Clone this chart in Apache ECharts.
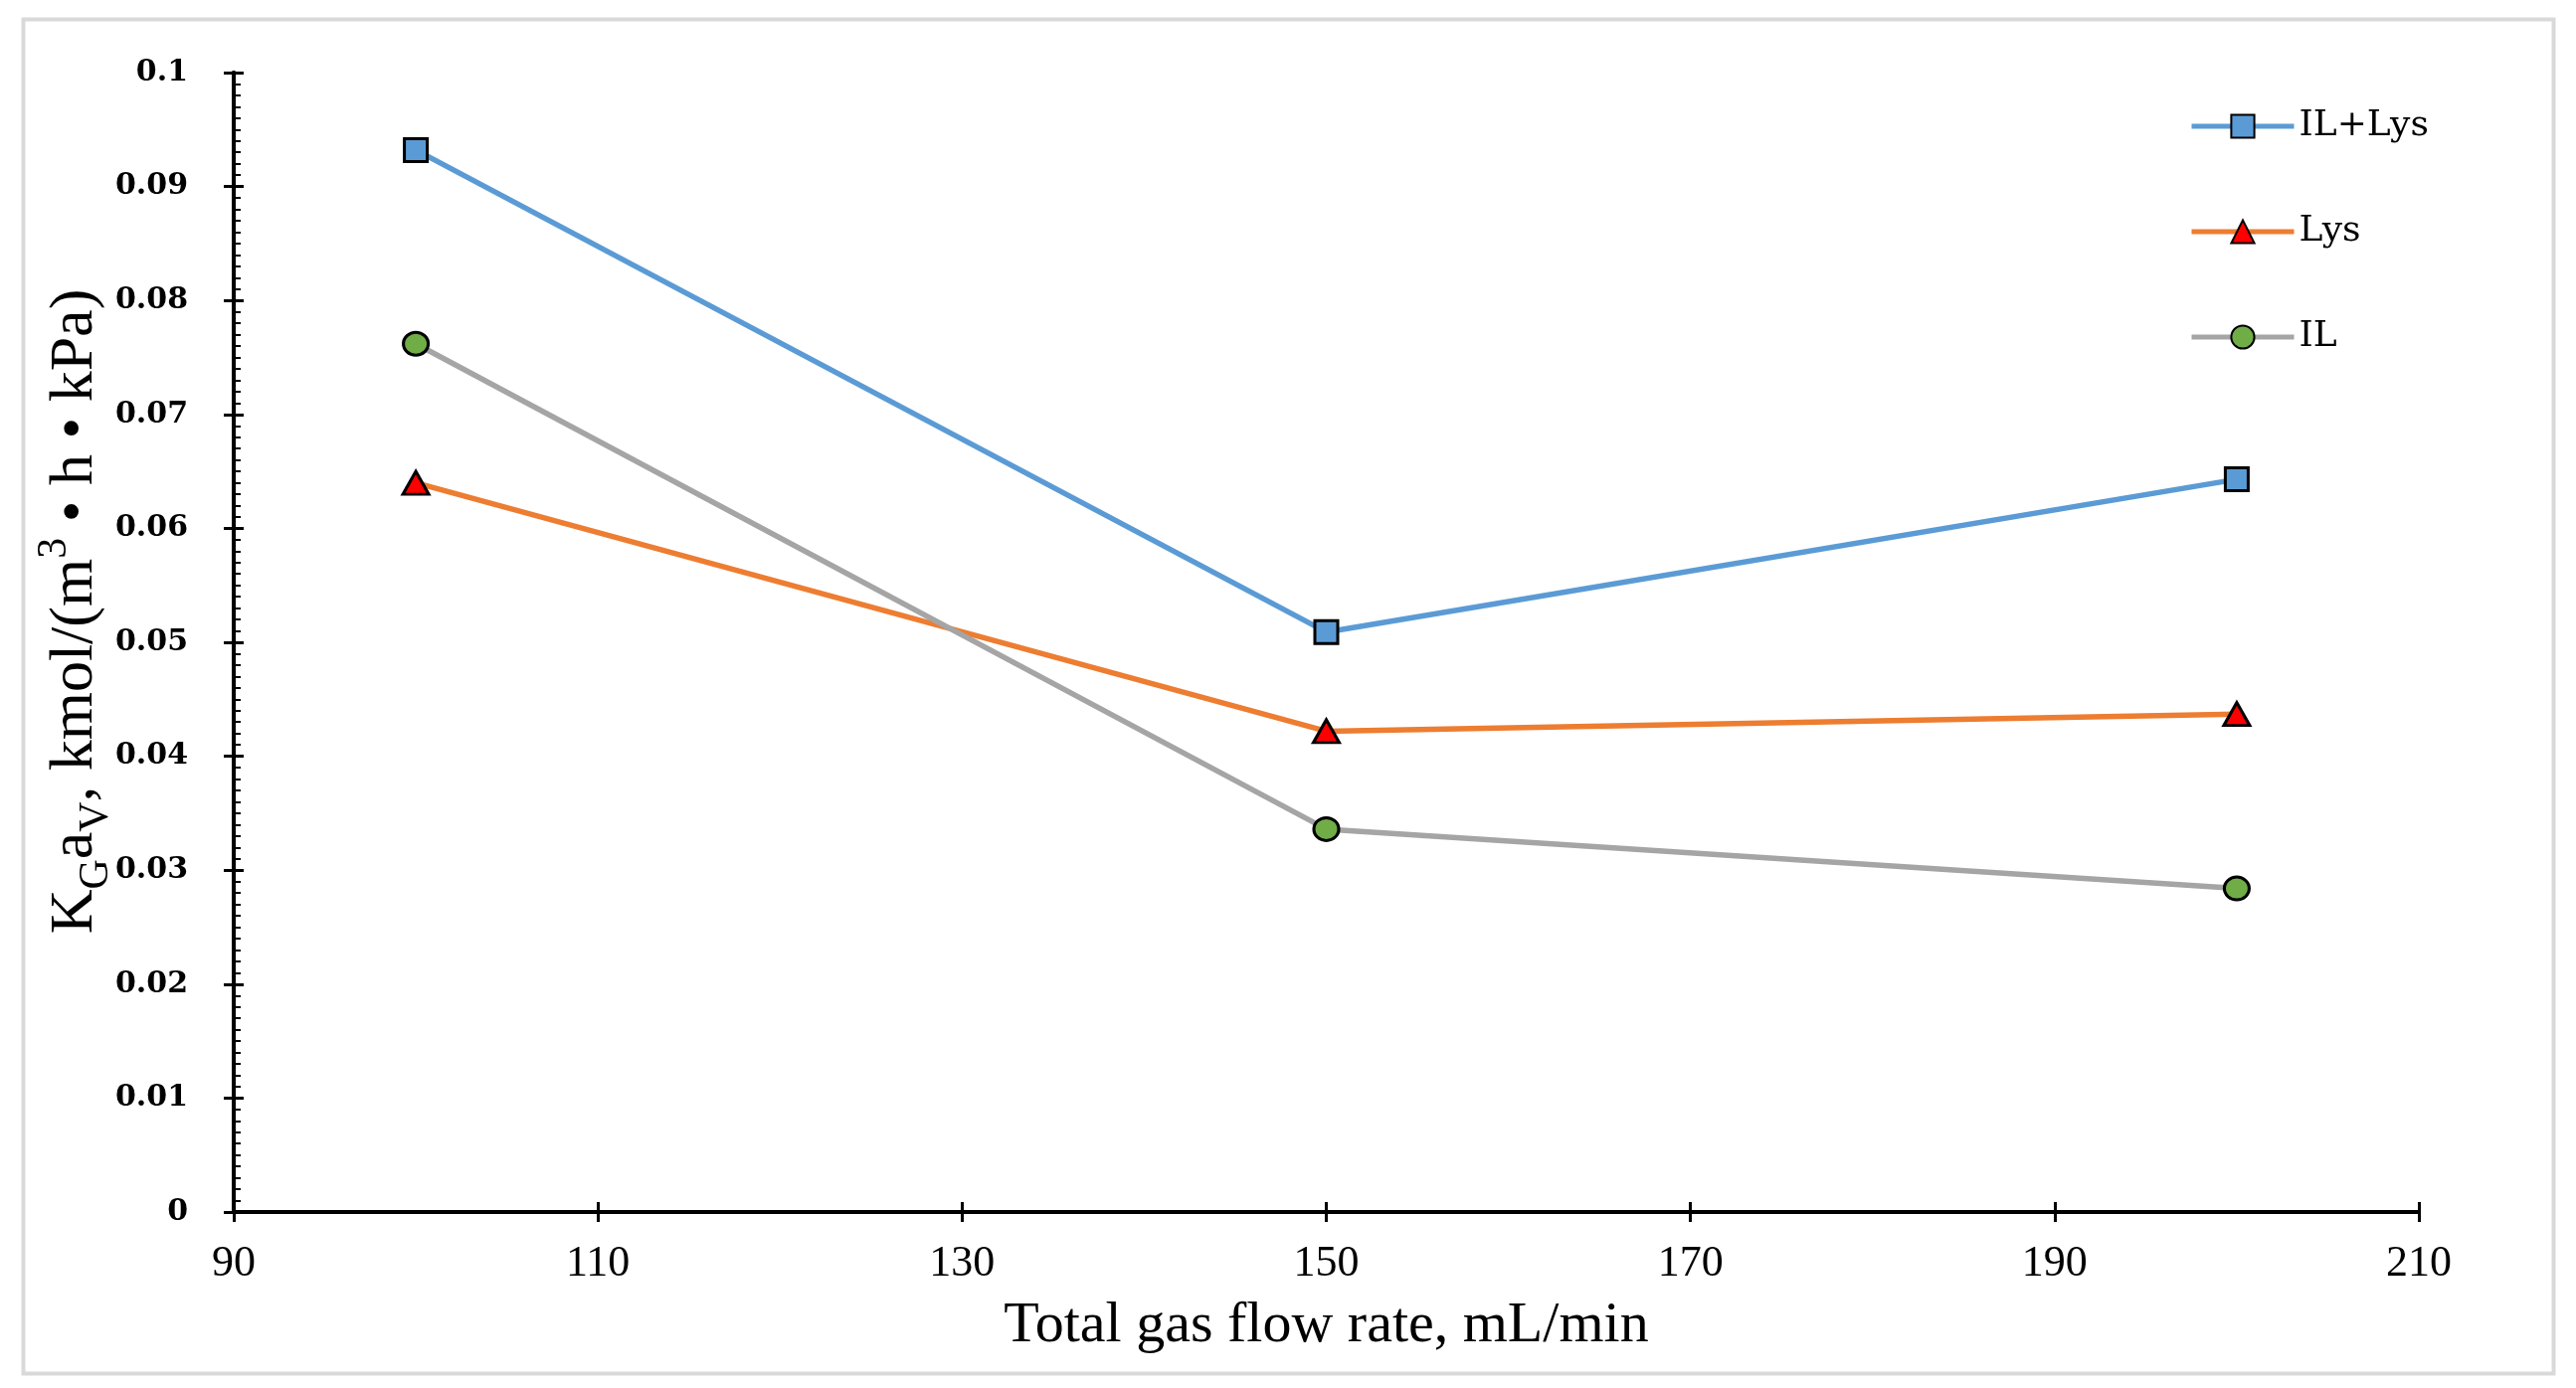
<!DOCTYPE html>
<html>
<head>
<meta charset="utf-8">
<script src="https://cdn.jsdelivr.net/npm/echarts@6/dist/echarts.min.js"></script>
<style>
html,body{margin:0;padding:0;background:#fff;}
#chart{width:2590px;height:1396px;}
</style>
</head>
<body>
<div id="chart"></div>
<script>
// ---- data ----
var flowRates = [100, 150, 200];
var seriesNames = ['IL+Lys', 'Lys', 'IL'];
var ilLys = [0.0932, 0.0509, 0.0643];
var lys = [0.0640, 0.0422, 0.0437];
var il = [0.0762, 0.0336, 0.0284];
var xTicks = [90, 110, 130, 150, 170, 190, 210];
var yTicks = [0, 0.01, 0.02, 0.03, 0.04, 0.05, 0.06, 0.07, 0.08, 0.09, 0.1];

function pairs(vals) {
  return flowRates.map(function (x, i) { return [x, vals[i]]; });
}

var serif = 'Liberation Serif';
var chart = echarts.init(document.getElementById('chart'));

var axisBlack = { show: true, lineStyle: { color: '#000', width: 4 } };

var option = {
  backgroundColor: '#fff',
  animation: false,
  grid: { left: 235, right: 158, top: 73, bottom: 177, containLabel: false },
  legend: {
    orient: 'vertical',
    left: 2196,
    top: 104,
    itemWidth: 103,
    itemHeight: 29,
    itemGap: 70,
    data: seriesNames,
    lineStyle: { width: 5 },
    textStyle: { fontFamily: 'DejaVu Serif', fontSize: 36, color: '#000', padding: [0, 0, 0, 0] }
  },
  xAxis: [
    {
      type: 'value', min: xTicks[0], max: xTicks[xTicks.length - 1], interval: 20,
      axisLine: axisBlack,
      axisTick: { show: true, inside: false, length: 10, lineStyle: { color: '#000', width: 3 } },
      axisLabel: { show: true, margin: 30, fontFamily: serif, fontSize: 44, color: '#000' },
      splitLine: { show: false },
      name: 'Total gas flow rate, mL/min',
      nameLocation: 'middle',
      nameGap: 86,
      nameTextStyle: { fontFamily: serif, fontSize: 58, color: '#000' }
    },
    {
      type: 'value', min: xTicks[0], max: xTicks[xTicks.length - 1], interval: 20,
      position: 'bottom', offset: 0,
      axisLine: axisBlack,
      axisTick: { show: true, inside: true, length: 10, lineStyle: { color: '#000', width: 3 } },
      axisLabel: { show: false },
      splitLine: { show: false }
    }
  ],
  yAxis: [
    {
      type: 'value', min: yTicks[0], max: yTicks[yTicks.length - 1], interval: 0.01,
      axisLine: axisBlack,
      axisTick: { show: true, inside: false, length: 10, lineStyle: { color: '#000', width: 3 } },
      axisLabel: {
        show: true, margin: 46, fontFamily: 'DejaVu Serif', fontWeight: 'bold', fontSize: 30, color: '#000',
        formatter: function (v) { return String(+v.toFixed(2)); }
      },
      splitLine: { show: false }
    },
    {
      type: 'value', min: yTicks[0], max: yTicks[yTicks.length - 1], interval: 0.01,
      position: 'left', offset: 0,
      axisLine: axisBlack,
      axisTick: { show: true, inside: true, length: 10, lineStyle: { color: '#000', width: 3 } },
      minorTick: { show: true, splitNumber: 10, length: 7, lineStyle: { color: '#000', width: 2 } },
      axisLabel: { show: false },
      splitLine: { show: false }
    }
  ],
  graphic: [
    {
      type: 'rect', left: 21, top: 17, z: -10, silent: true,
      shape: { width: 2544, height: 1362 },
      style: { fill: 'none', stroke: '#d9d9d9', lineWidth: 4 }
    },
    {
      type: 'text', x: 76, y: 615, rotation: Math.PI / 2, silent: true,
      style: {
        text: '{k|K}{sub|G}{k|a}{sub|V}{k|, kmol/(m}{sup|3}{k| • h • kPa)}',
        align: 'center', verticalAlign: 'middle', fill: '#000',
        rich: {
          k: { fontFamily: serif, fontSize: 62, lineHeight: 84, verticalAlign: 'middle', fill: '#000' },
          sub: { fontFamily: serif, fontSize: 42, lineHeight: 42, verticalAlign: 'bottom', fill: '#000' },
          sup: { fontFamily: serif, fontSize: 42, lineHeight: 42, verticalAlign: 'top', fill: '#000' }
        }
      }
    }
  ],
  series: [
    {
      name: seriesNames[0], type: 'line', data: pairs(ilLys),
      symbol: 'rect', symbolSize: 23,
      lineStyle: { color: '#5B9BD5', width: 5.5 },
      itemStyle: { color: '#5B9BD5', borderColor: '#000', borderWidth: 3 }
    },
    {
      name: seriesNames[1], type: 'line', data: pairs(lys),
      symbol: 'triangle', symbolSize: [26, 23],
      lineStyle: { color: '#ED7D31', width: 5.5 },
      itemStyle: { color: '#FF0000', borderColor: '#000', borderWidth: 3 }
    },
    {
      name: seriesNames[2], type: 'line', data: pairs(il),
      symbol: 'circle', symbolSize: [25, 23],
      lineStyle: { color: '#A5A5A5', width: 5.5 },
      itemStyle: { color: '#70AD47', borderColor: '#000', borderWidth: 3 }
    }
  ]
};
chart.setOption(option);
</script>
</body>
</html>
